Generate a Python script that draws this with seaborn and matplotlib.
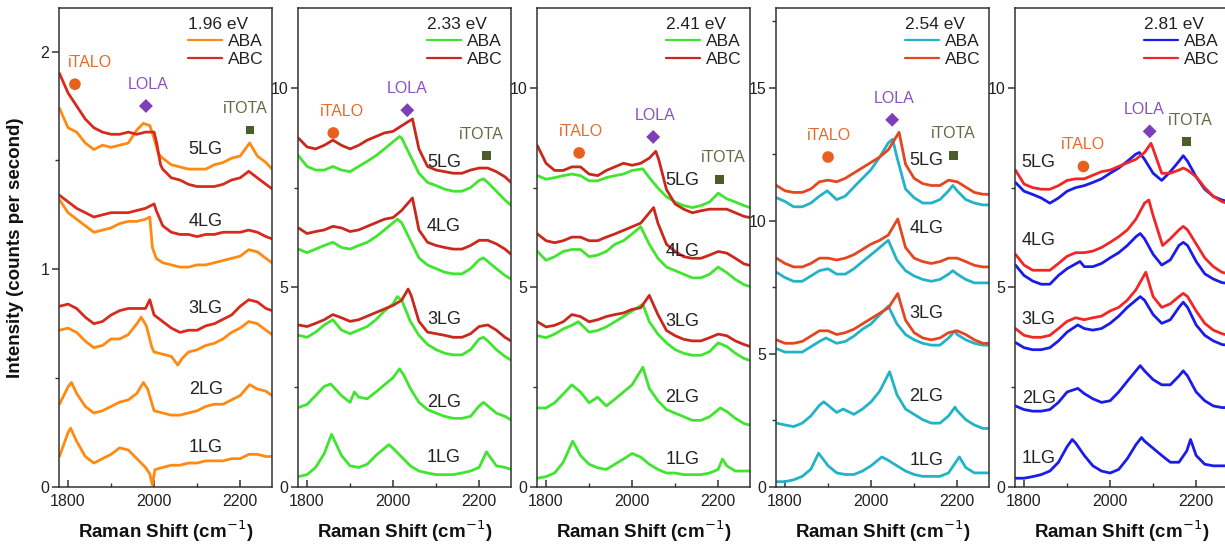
import matplotlib
matplotlib.use("Agg")
import matplotlib.pyplot as plt
from matplotlib.lines import Line2D
import pandas as pd
import seaborn as sns

# ------------------------------------------------------------------ data
ENERGIES = ["1.96 eV", "2.33 eV", "2.41 eV", "2.54 eV", "2.81 eV"]
LAYERS = ["1LG", "2LG", "3LG", "4LG", "5LG"]
STACKINGS = ["ABA", "ABC"]
MODES = ["iTALO", "LOLA", "iTOTA"]

# ---- 1.96 eV
E196_ABA_1LG = [(1780,0.14),(1800,0.25),(1806,0.27),(1820,0.21),(1840,0.14),(1860,0.11),(1880,0.13),(1900,0.15),(1920,0.18),(1940,0.17),(1960,0.13),(1980,0.09),(1990,0.06),(1996,0.01),(2002,0.08),(2020,0.09),(2040,0.10),(2060,0.10),(2080,0.11),(2100,0.11),(2120,0.12),(2140,0.12),(2160,0.12),(2180,0.13),(2200,0.13),(2220,0.15),(2240,0.15),(2260,0.14),(2274,0.14)]
E196_ABA_2LG = [(1780,0.38),(1800,0.46),(1808,0.48),(1820,0.43),(1840,0.37),(1860,0.34),(1880,0.35),(1900,0.37),(1920,0.39),(1940,0.40),(1960,0.43),(1975,0.48),(1985,0.45),(2000,0.35),(2020,0.34),(2040,0.33),(2060,0.33),(2080,0.34),(2100,0.35),(2120,0.37),(2140,0.38),(2160,0.38),(2180,0.40),(2200,0.42),(2222,0.47),(2240,0.45),(2260,0.44),(2274,0.42)]
E196_ABA_3LG = [(1780,0.72),(1800,0.73),(1820,0.71),(1840,0.67),(1860,0.64),(1880,0.65),(1900,0.68),(1920,0.68),(1940,0.70),(1960,0.75),(1970,0.78),(1982,0.74),(1995,0.64),(2000,0.62),(2020,0.61),(2040,0.60),(2055,0.56),(2065,0.59),(2080,0.62),(2100,0.63),(2120,0.65),(2140,0.66),(2160,0.68),(2180,0.71),(2200,0.73),(2220,0.76),(2240,0.75),(2260,0.72),(2274,0.70)]
E196_ABC_3LG = [(1780,0.83),(1800,0.84),(1820,0.82),(1840,0.78),(1860,0.75),(1880,0.76),(1900,0.79),(1920,0.81),(1940,0.82),(1960,0.82),(1980,0.82),(1990,0.86),(2000,0.79),(2020,0.76),(2040,0.73),(2060,0.71),(2080,0.72),(2100,0.72),(2120,0.74),(2140,0.75),(2160,0.77),(2180,0.79),(2200,0.83),(2220,0.86),(2240,0.85),(2260,0.82),(2274,0.81)]
E196_ABA_4LG = [(1780,1.32),(1800,1.26),(1820,1.23),(1840,1.20),(1860,1.17),(1880,1.18),(1900,1.19),(1920,1.21),(1940,1.22),(1960,1.22),(1980,1.23),(1990,1.24),(1996,1.10),(2005,1.05),(2020,1.03),(2040,1.02),(2060,1.01),(2080,1.01),(2100,1.02),(2120,1.02),(2140,1.03),(2160,1.04),(2180,1.05),(2200,1.06),(2220,1.09),(2240,1.08),(2260,1.05),(2274,1.03)]
E196_ABC_4LG = [(1780,1.34),(1800,1.31),(1820,1.28),(1840,1.26),(1860,1.24),(1880,1.25),(1900,1.26),(1920,1.26),(1940,1.26),(1960,1.27),(1980,1.28),(2000,1.30),(2005,1.27),(2020,1.20),(2040,1.17),(2060,1.16),(2080,1.16),(2100,1.15),(2120,1.16),(2140,1.16),(2160,1.17),(2180,1.17),(2200,1.17),(2220,1.18),(2240,1.17),(2260,1.15),(2274,1.14)]
E196_ABA_5LG = [(1780,1.74),(1800,1.65),(1820,1.63),(1840,1.58),(1860,1.55),(1880,1.57),(1900,1.56),(1920,1.57),(1940,1.58),(1960,1.64),(1975,1.67),(1990,1.66),(2000,1.60),(2010,1.53),(2020,1.51),(2040,1.48),(2060,1.47),(2080,1.46),(2100,1.46),(2120,1.46),(2140,1.48),(2160,1.49),(2180,1.51),(2200,1.52),(2222,1.58),(2240,1.52),(2260,1.49),(2274,1.46)]
E196_ABC_5LG = [(1780,1.90),(1800,1.81),(1820,1.75),(1840,1.69),(1860,1.65),(1880,1.63),(1900,1.62),(1920,1.62),(1940,1.63),(1960,1.62),(1980,1.63),(2000,1.63),(2006,1.58),(2015,1.48),(2020,1.46),(2040,1.42),(2060,1.41),(2080,1.39),(2100,1.38),(2120,1.38),(2140,1.38),(2160,1.39),(2180,1.41),(2200,1.42),(2220,1.45),(2240,1.42),(2260,1.39),(2274,1.37)]

# ---- 2.33 eV
E233_ABA_1LG = [(1780,0.26),(1800,0.31),(1820,0.49),(1840,0.84),(1857,1.32),(1880,0.79),(1900,0.53),(1920,0.49),(1940,0.57),(1960,0.79),(1980,0.97),(1990,1.06),(2000,0.97),(2020,0.75),(2040,0.53),(2060,0.40),(2080,0.35),(2100,0.31),(2120,0.31),(2140,0.31),(2160,0.35),(2180,0.40),(2200,0.49),(2217,0.88),(2240,0.53),(2260,0.49),(2274,0.44)]
E233_ABA_2LG = [(1780,1.99),(1800,2.07),(1820,2.29),(1840,2.52),(1855,2.58),(1880,2.29),(1900,2.12),(1910,2.38),(1920,2.25),(1940,2.21),(1960,2.38),(1980,2.56),(2000,2.74),(2015,2.96),(2025,2.80),(2040,2.47),(2060,2.12),(2080,1.94),(2100,1.85),(2120,1.77),(2140,1.72),(2160,1.72),(2180,1.77),(2200,2.03),(2210,2.12),(2220,2.03),(2240,1.85),(2260,1.77),(2274,1.68)]
E233_ABA_3LG = [(1780,3.80),(1800,3.75),(1820,3.88),(1840,4.06),(1860,4.19),(1880,3.93),(1900,3.84),(1920,3.93),(1940,4.02),(1960,4.19),(1980,4.41),(2000,4.59),(2010,4.77),(2020,4.68),(2040,4.15),(2060,3.80),(2080,3.57),(2100,3.44),(2120,3.35),(2140,3.31),(2160,3.31),(2180,3.44),(2200,3.71),(2210,3.75),(2220,3.66),(2240,3.44),(2260,3.27),(2274,3.18)]
E233_ABC_3LG = [(1780,4.06),(1800,4.02),(1820,4.10),(1840,4.19),(1860,4.32),(1880,4.24),(1900,4.15),(1920,4.19),(1940,4.28),(1960,4.37),(1980,4.46),(2000,4.55),(2020,4.68),(2035,4.96),(2042,4.80),(2060,4.15),(2080,3.88),(2100,3.84),(2120,3.80),(2140,3.75),(2160,3.75),(2180,3.84),(2200,4.02),(2220,4.06),(2240,3.93),(2260,3.75),(2274,3.66)]
E233_ABA_4LG = [(1780,5.96),(1800,5.87),(1820,5.96),(1840,6.05),(1860,6.13),(1880,6.00),(1900,5.96),(1920,6.05),(1940,6.13),(1960,6.27),(1980,6.44),(2000,6.62),(2010,6.71),(2020,6.62),(2040,6.18),(2060,5.74),(2080,5.56),(2100,5.47),(2120,5.38),(2140,5.34),(2160,5.34),(2180,5.47),(2200,5.69),(2210,5.74),(2220,5.65),(2240,5.47),(2260,5.30),(2274,5.21)]
E233_ABC_4LG = [(1780,6.49),(1800,6.35),(1820,6.40),(1840,6.44),(1860,6.53),(1880,6.49),(1900,6.40),(1920,6.44),(1940,6.53),(1960,6.62),(1980,6.71),(2000,6.75),(2020,6.93),(2045,7.24),(2060,6.44),(2080,6.13),(2100,6.05),(2120,6.00),(2140,5.96),(2160,5.96),(2180,6.05),(2200,6.18),(2220,6.18),(2240,6.09),(2260,5.96),(2274,5.83)]
E233_ABA_5LG = [(1780,8.30),(1800,8.03),(1820,7.94),(1840,7.94),(1860,8.03),(1880,7.94),(1900,7.90),(1920,8.03),(1940,8.16),(1960,8.30),(1980,8.47),(2000,8.65),(2015,8.78),(2020,8.74),(2040,8.30),(2060,7.86),(2080,7.63),(2100,7.55),(2120,7.46),(2140,7.41),(2160,7.41),(2180,7.50),(2200,7.68),(2210,7.72),(2220,7.63),(2240,7.41),(2260,7.19),(2274,7.06)]
E233_ABC_5LG = [(1780,8.74),(1800,8.52),(1820,8.47),(1840,8.56),(1860,8.69),(1880,8.56),(1900,8.47),(1920,8.56),(1940,8.69),(1960,8.78),(1980,8.87),(2000,8.91),(2020,9.05),(2045,9.22),(2060,8.47),(2080,8.03),(2100,7.94),(2120,7.90),(2140,7.86),(2160,7.86),(2180,7.94),(2200,7.99),(2220,7.99),(2240,7.90),(2260,7.77),(2274,7.63)]

# ---- 2.41 eV
E241_ABA_1LG = [(1780,0.22),(1800,0.26),(1820,0.35),(1840,0.62),(1862,1.15),(1880,0.79),(1900,0.57),(1920,0.48),(1940,0.44),(1960,0.57),(1980,0.70),(2000,0.84),(2020,0.75),(2040,0.57),(2060,0.44),(2080,0.35),(2100,0.35),(2120,0.31),(2140,0.31),(2160,0.31),(2180,0.35),(2200,0.44),(2210,0.70),(2220,0.53),(2240,0.40),(2260,0.40),(2274,0.40)]
E241_ABA_2LG = [(1780,1.98),(1800,1.98),(1820,2.11),(1840,2.33),(1860,2.56),(1880,2.38),(1900,2.11),(1920,2.25),(1940,2.03),(1960,2.20),(1980,2.38),(2000,2.56),(2025,3.00),(2040,2.47),(2060,2.16),(2080,1.94),(2100,1.85),(2120,1.76),(2140,1.67),(2160,1.67),(2180,1.76),(2205,1.98),(2220,1.89),(2240,1.72),(2260,1.59),(2274,1.55)]
E241_ABA_3LG = [(1780,3.79),(1800,3.74),(1820,3.83),(1840,3.96),(1860,4.05),(1875,4.14),(1900,3.88),(1920,3.92),(1940,4.01),(1960,4.14),(1980,4.27),(2000,4.41),(2025,4.58),(2040,4.14),(2060,3.83),(2080,3.61),(2100,3.44),(2120,3.35),(2140,3.30),(2160,3.30),(2180,3.39),(2200,3.61),(2220,3.52),(2240,3.35),(2260,3.22),(2274,3.17)]
E241_ABC_3LG = [(1780,4.14),(1800,4.01),(1820,4.05),(1840,4.14),(1860,4.32),(1880,4.27),(1900,4.14),(1920,4.19),(1940,4.27),(1960,4.32),(1980,4.36),(2000,4.45),(2020,4.49),(2040,4.80),(2060,4.32),(2080,3.92),(2100,3.79),(2120,3.70),(2140,3.66),(2160,3.66),(2180,3.74),(2200,3.83),(2220,3.79),(2240,3.66),(2260,3.57),(2274,3.52)]
E241_ABA_4LG = [(1780,5.90),(1800,5.68),(1820,5.77),(1840,5.90),(1860,5.95),(1880,5.95),(1900,5.77),(1920,5.81),(1940,5.90),(1960,6.08),(1980,6.17),(2000,6.34),(2020,6.52),(2040,6.08),(2060,5.73),(2080,5.51),(2100,5.42),(2120,5.33),(2140,5.24),(2160,5.24),(2180,5.33),(2200,5.51),(2220,5.37),(2240,5.20),(2260,5.07),(2274,5.02)]
E241_ABC_4LG = [(1780,6.34),(1800,6.17),(1820,6.12),(1840,6.17),(1860,6.26),(1880,6.26),(1900,6.17),(1920,6.17),(1940,6.26),(1960,6.34),(1980,6.43),(2000,6.52),(2020,6.61),(2040,6.87),(2050,7.00),(2060,6.61),(2080,6.08),(2100,5.90),(2120,5.77),(2140,5.73),(2160,5.73),(2180,5.81),(2200,5.90),(2220,5.86),(2240,5.73),(2260,5.59),(2274,5.55)]
E241_ABA_5LG = [(1780,7.80),(1800,7.71),(1820,7.75),(1840,7.80),(1860,7.84),(1880,7.80),(1900,7.67),(1920,7.67),(1940,7.75),(1960,7.80),(1980,7.84),(2000,7.93),(2025,7.97),(2040,7.75),(2060,7.49),(2080,7.27),(2100,7.14),(2120,7.05),(2140,7.00),(2160,7.05),(2180,7.14),(2200,7.36),(2220,7.22),(2240,7.14),(2260,7.05),(2274,7.00)]
E241_ABC_5LG = [(1780,8.55),(1800,8.11),(1820,7.93),(1840,7.93),(1860,8.02),(1880,8.02),(1900,7.84),(1920,7.80),(1940,7.93),(1960,8.02),(1980,8.11),(2000,8.06),(2020,8.11),(2040,8.24),(2055,8.41),(2062,8.20),(2080,7.45),(2100,7.09),(2120,6.96),(2140,6.87),(2160,6.92),(2180,6.96),(2200,6.96),(2220,6.96),(2240,6.87),(2260,6.78),(2274,6.75)]

# ---- 2.54 eV
E254_ABA_1LG = [(1780,0.20),(1800,0.20),(1820,0.27),(1840,0.40),(1860,0.67),(1878,1.27),(1900,0.80),(1920,0.53),(1940,0.47),(1960,0.47),(1980,0.60),(2000,0.80),(2025,1.13),(2040,1.00),(2060,0.80),(2080,0.60),(2100,0.47),(2120,0.40),(2140,0.40),(2160,0.40),(2180,0.53),(2205,1.13),(2220,0.73),(2240,0.53),(2260,0.53),(2274,0.53)]
E254_ABA_2LG = [(1780,2.40),(1800,2.33),(1820,2.27),(1840,2.40),(1860,2.67),(1880,3.07),(1890,3.20),(1900,3.07),(1920,2.80),(1935,2.93),(1960,2.73),(1980,2.93),(2000,3.20),(2020,3.60),(2043,4.33),(2060,3.47),(2080,2.93),(2100,2.73),(2120,2.53),(2140,2.40),(2160,2.40),(2180,2.67),(2195,3.00),(2200,2.87),(2220,2.53),(2240,2.33),(2260,2.20),(2274,2.20)]
E254_ABA_3LG = [(1780,5.20),(1800,5.07),(1820,5.07),(1840,5.07),(1860,5.27),(1880,5.47),(1895,5.60),(1920,5.40),(1940,5.47),(1960,5.67),(1980,5.93),(2000,6.13),(2020,6.47),(2040,6.80),(2060,6.13),(2080,5.73),(2100,5.53),(2120,5.40),(2140,5.33),(2160,5.33),(2180,5.60),(2195,5.87),(2200,5.73),(2220,5.53),(2240,5.40),(2260,5.33),(2274,5.33)]
E254_ABC_3LG = [(1780,5.53),(1800,5.40),(1820,5.40),(1840,5.47),(1860,5.67),(1880,5.87),(1900,5.87),(1920,5.73),(1940,5.80),(1960,5.93),(1980,6.13),(2000,6.33),(2020,6.53),(2040,6.73),(2062,7.27),(2080,6.27),(2100,5.80),(2120,5.60),(2140,5.53),(2160,5.60),(2180,5.80),(2200,5.87),(2220,5.73),(2240,5.53),(2260,5.40),(2274,5.40)]
E254_ABA_4LG = [(1780,8.07),(1800,7.87),(1820,7.73),(1840,7.73),(1860,7.93),(1880,8.13),(1900,8.20),(1920,8.00),(1940,8.00),(1960,8.20),(1980,8.47),(2000,8.73),(2020,9.00),(2040,9.27),(2060,8.53),(2080,8.13),(2100,7.93),(2120,7.80),(2140,7.73),(2160,7.80),(2180,8.00),(2190,8.13),(2200,8.00),(2220,7.80),(2240,7.67),(2260,7.67),(2274,7.67)]
E254_ABC_4LG = [(1780,8.60),(1800,8.40),(1820,8.27),(1840,8.27),(1860,8.40),(1880,8.60),(1900,8.60),(1920,8.53),(1940,8.60),(1960,8.73),(1980,8.93),(2000,9.13),(2020,9.27),(2040,9.47),(2062,10.07),(2080,9.00),(2100,8.60),(2120,8.47),(2140,8.40),(2160,8.47),(2180,8.60),(2200,8.60),(2220,8.47),(2240,8.33),(2260,8.27),(2274,8.27)]
E254_ABA_5LG = [(1780,10.87),(1800,10.73),(1820,10.53),(1840,10.53),(1860,10.67),(1880,10.93),(1898,11.13),(1920,10.80),(1940,10.93),(1960,11.27),(1980,11.60),(2000,11.93),(2020,12.40),(2040,12.93),(2050,13.07),(2060,12.40),(2080,11.20),(2100,10.87),(2120,10.67),(2140,10.67),(2160,10.80),(2180,11.13),(2190,11.33),(2200,11.13),(2220,10.80),(2240,10.67),(2260,10.60),(2274,10.60)]
E254_ABC_5LG = [(1780,11.33),(1800,11.13),(1820,11.07),(1840,11.07),(1860,11.20),(1880,11.47),(1900,11.53),(1920,11.47),(1940,11.60),(1960,11.80),(1980,12.00),(2000,12.20),(2020,12.40),(2040,12.67),(2065,13.33),(2080,12.13),(2100,11.60),(2120,11.40),(2140,11.33),(2160,11.33),(2180,11.53),(2200,11.47),(2220,11.27),(2240,11.07),(2260,11.00),(2274,11.00)]

# ---- 2.81 eV
E281_ABA_1LG = [(1780,0.22),(1800,0.22),(1820,0.26),(1840,0.31),(1860,0.40),(1880,0.62),(1900,1.01),(1912,1.19),(1920,1.10),(1940,0.79),(1960,0.53),(1980,0.40),(2000,0.35),(2020,0.44),(2040,0.71),(2060,1.06),(2073,1.24),(2080,1.15),(2100,0.97),(2120,0.79),(2140,0.62),(2160,0.62),(2178,0.90),(2187,1.19),(2200,0.79),(2220,0.57),(2240,0.53),(2260,0.53),(2274,0.53)]
E281_ABA_2LG = [(1780,2.03),(1800,1.94),(1820,1.90),(1840,1.90),(1860,1.94),(1880,2.12),(1900,2.38),(1925,2.47),(1940,2.34),(1960,2.21),(1980,2.12),(2000,2.16),(2020,2.38),(2040,2.65),(2060,2.91),(2070,3.04),(2080,2.91),(2100,2.69),(2120,2.56),(2140,2.56),(2160,2.78),(2170,2.91),(2180,2.78),(2200,2.38),(2220,2.16),(2240,2.03),(2260,1.99),(2274,1.99)]
E281_ABA_3LG = [(1780,3.62),(1800,3.49),(1820,3.44),(1840,3.44),(1860,3.49),(1880,3.66),(1900,3.88),(1925,4.06),(1940,3.97),(1960,3.93),(1980,3.97),(2000,4.10),(2020,4.28),(2040,4.50),(2060,4.68),(2070,4.77),(2080,4.68),(2100,4.32),(2120,4.10),(2140,4.19),(2160,4.50),(2170,4.63),(2180,4.50),(2200,4.06),(2220,3.80),(2240,3.66),(2260,3.57),(2274,3.55)]
E281_ABC_3LG = [(1780,3.97),(1800,3.80),(1820,3.75),(1840,3.75),(1860,3.80),(1880,3.97),(1900,4.15),(1920,4.24),(1940,4.19),(1960,4.24),(1980,4.28),(2000,4.41),(2020,4.50),(2040,4.68),(2060,4.94),(2083,5.38),(2100,4.77),(2120,4.50),(2140,4.59),(2160,4.77),(2170,4.85),(2180,4.77),(2200,4.41),(2220,4.10),(2240,3.93),(2260,3.84),(2274,3.80)]
E281_ABA_4LG = [(1780,5.56),(1800,5.30),(1820,5.16),(1840,5.08),(1860,5.08),(1880,5.30),(1900,5.47),(1930,5.65),(1940,5.52),(1960,5.52),(1980,5.60),(2000,5.74),(2020,5.87),(2040,6.05),(2060,6.27),(2070,6.35),(2080,6.22),(2100,5.83),(2120,5.56),(2140,5.69),(2160,6.05),(2170,6.13),(2180,6.05),(2200,5.65),(2220,5.34),(2240,5.21),(2260,5.12),(2274,5.10)]
E281_ABC_4LG = [(1780,5.83),(1800,5.56),(1820,5.43),(1840,5.43),(1860,5.43),(1880,5.60),(1900,5.78),(1920,5.87),(1940,5.87),(1960,5.91),(1980,6.00),(2000,6.13),(2020,6.27),(2040,6.44),(2060,6.71),(2080,7.11),(2090,7.19),(2100,6.80),(2122,6.05),(2140,6.22),(2160,6.44),(2170,6.53),(2180,6.44),(2200,6.09),(2220,5.74),(2240,5.52),(2260,5.38),(2274,5.34)]
E281_ABA_5LG = [(1780,7.63),(1800,7.41),(1820,7.33),(1840,7.24),(1860,7.11),(1880,7.24),(1900,7.41),(1920,7.50),(1940,7.55),(1960,7.63),(1980,7.72),(2000,7.86),(2020,7.99),(2040,8.16),(2060,8.34),(2068,8.38),(2080,8.21),(2100,7.86),(2120,7.68),(2140,7.90),(2160,8.16),(2170,8.30),(2180,8.16),(2200,7.77),(2220,7.46),(2240,7.28),(2260,7.19),(2274,7.15)]
E281_ABC_5LG = [(1780,7.94),(1800,7.59),(1820,7.50),(1840,7.46),(1860,7.46),(1880,7.55),(1900,7.68),(1920,7.72),(1940,7.72),(1960,7.81),(1980,7.90),(2000,7.94),(2020,8.03),(2040,8.12),(2060,8.21),(2080,8.38),(2095,8.61),(2100,8.47),(2120,7.86),(2140,7.86),(2160,7.94),(2170,7.99),(2180,7.94),(2200,7.77),(2220,7.50),(2240,7.28),(2260,7.15),(2274,7.10)]

# mode markers (x in cm-1, y in counts/s) per panel
ITALO_MARK = [(1816, 1.85), (1861, 8.87), (1877, 8.37), (1900, 12.4), (1938, 8.03)]
LOLA_MARK = [(1981, 1.75), (2033, 9.44), (2049, 8.77), (2049, 13.8), (2092, 8.91)]
ITOTA_MARK = [(2223, 1.64), (2217, 8.30), (2204, 7.71), (2192, 12.47), (2177, 8.65)]

PANEL_CURVES = [
    {"ABA": [E196_ABA_1LG, E196_ABA_2LG, E196_ABA_3LG, E196_ABA_4LG, E196_ABA_5LG],
     "ABC": [None, None, E196_ABC_3LG, E196_ABC_4LG, E196_ABC_5LG]},
    {"ABA": [E233_ABA_1LG, E233_ABA_2LG, E233_ABA_3LG, E233_ABA_4LG, E233_ABA_5LG],
     "ABC": [None, None, E233_ABC_3LG, E233_ABC_4LG, E233_ABC_5LG]},
    {"ABA": [E241_ABA_1LG, E241_ABA_2LG, E241_ABA_3LG, E241_ABA_4LG, E241_ABA_5LG],
     "ABC": [None, None, E241_ABC_3LG, E241_ABC_4LG, E241_ABC_5LG]},
    {"ABA": [E254_ABA_1LG, E254_ABA_2LG, E254_ABA_3LG, E254_ABA_4LG, E254_ABA_5LG],
     "ABC": [None, None, E254_ABC_3LG, E254_ABC_4LG, E254_ABC_5LG]},
    {"ABA": [E281_ABA_1LG, E281_ABA_2LG, E281_ABA_3LG, E281_ABA_4LG, E281_ABA_5LG],
     "ABC": [None, None, E281_ABC_3LG, E281_ABC_4LG, E281_ABC_5LG]},
]

# ------------------------------------------------------------------ style
ABA_COLORS = ["#FF8A12", "#3FE52F", "#3FE52F", "#22B3C6", "#1B1BEA"]
ABC_COLORS = ["#D82A1E", "#C9291D", "#C9291D", "#E4461F", "#F22626"]
ITALO_C, LOLA_C, ITOTA_C = "#E8601E", "#7D3FB8", "#4B5D2B"
ITALO_TC, LOLA_TC, ITOTA_TC = "#E66A2C", "#8A52C2", "#5E6E44"

YLIMS = [2.2, 12, 12, 18, 12]
YMAJ = [[0, 1, 2], [0, 5, 10], [0, 5, 10], [0, 5, 10, 15], [0, 5, 10]]
YMIN = [[0.5, 1.5], [2.5, 7.5], [2.5, 7.5], [2.5, 7.5, 12.5, 17.5], [2.5, 7.5]]
XLIM = (1779, 2274)

ITALO_TXT_DX = [35, 19, 3, 3, 0]
LOLA_TXT_DX = [5, 0, 5, 4, -12]
ITOTA_TXT_DX = [-11, -13, 8, 0, 9]
LAYER_LABEL_X = [2120, 2118, 2117, 2128, 1834]
LAYER_LABEL_Y = [[0.18, 0.45, 0.82, 1.22, 1.55],
                 [0.75, 2.12, 4.19, 6.53, 8.12],
                 [0.70, 2.25, 4.14, 5.90, 7.67],
                 [1.00, 3.40, 6.53, 9.73, 12.27],
                 [0.71, 2.21, 4.19, 6.18, 8.12]]

sns.set_style("ticks")
plt.rcParams["font.family"] = ["Liberation Sans", "DejaVu Sans"]
plt.rcParams["axes.linewidth"] = 1.1
plt.rcParams["axes.edgecolor"] = "#333333"

W, H = 1225, 548
fig = plt.figure(figsize=(W / 100, H / 100), dpi=100)
LEFTS = [59, 298, 537, 776, 1015]
PW = 213
TOP, BOT = 8, 487

for i in range(5):
    ax = fig.add_axes([LEFTS[i] / W, (H - BOT) / H, PW / W, (BOT - TOP) / H])
    rows = []
    for st in STACKINGS:
        for li, curve in enumerate(PANEL_CURVES[i][st]):
            if curve is None:
                continue
            for (x, y) in curve:
                rows.append({"shift": x, "intensity": y, "stacking": st,
                             "curve": f"{st}_{LAYERS[li]}"})
    df = pd.DataFrame(rows)
    sns.lineplot(data=df, x="shift", y="intensity", hue="stacking", units="curve",
                 estimator=None, sort=False, ax=ax, legend=False,
                 palette={"ABA": ABA_COLORS[i], "ABC": ABC_COLORS[i]},
                 hue_order=STACKINGS, linewidth=2.0)

    ymax = YLIMS[i]
    ax.set_xlim(*XLIM)
    ax.set_ylim(0, ymax)
    ax.set_xticks([1800, 2000, 2200])
    ax.set_xticks([1900, 2100], minor=True)
    ax.set_yticks(YMAJ[i])
    ax.set_yticks(YMIN[i], minor=True)
    ax.tick_params(axis="x", which="major", direction="in", length=5, width=1.1,
                   labelsize=11.5, colors="#333333", labelcolor="#222222", pad=5)
    ax.tick_params(axis="x", which="minor", direction="in", length=3, width=1.0, colors="#333333")
    ax.tick_params(axis="y", which="major", direction="out", length=5, width=1.1,
                   labelsize=11.5, colors="#333333", labelcolor="#222222", pad=2)
    ax.tick_params(axis="y", which="minor", direction="out", length=3, width=1.0, colors="#333333")
    for s in ax.spines.values():
        s.set_visible(True)
        s.set_color("#333333")
    ax.set_xlabel("Raman Shift (cm$^{-1}$)", fontsize=13.5, fontweight="bold", labelpad=7, color="#111111")
    if i == 0:
        ax.set_ylabel("Intensity (counts per second)", fontsize=13.5, fontweight="bold",
                      labelpad=12, color="#111111")
    else:
        ax.set_ylabel("")

    off = 0.045 * ymax
    mx, my = ITALO_MARK[i]
    sns.scatterplot(x=[mx], y=[my], ax=ax, color=ITALO_C, s=70, marker="o", edgecolor="none", legend=False)
    ax.text(mx + ITALO_TXT_DX[i], my + off, MODES[0], color=ITALO_TC, fontsize=11.5, ha="center", va="center")
    mx, my = LOLA_MARK[i]
    sns.scatterplot(x=[mx], y=[my], ax=ax, color=LOLA_C, s=50, marker="D", edgecolor="none", legend=False)
    ax.text(mx + LOLA_TXT_DX[i], my + off, MODES[1], color=LOLA_TC, fontsize=11.5, ha="center", va="center")
    mx, my = ITOTA_MARK[i]
    sns.scatterplot(x=[mx], y=[my], ax=ax, color=ITOTA_C, s=40, marker="s", edgecolor="none", legend=False)
    ax.text(mx + ITOTA_TXT_DX[i], my + off, MODES[2], color=ITOTA_TC, fontsize=11.5, ha="center", va="center")

    for li, lab in enumerate(LAYERS):
        ax.text(LAYER_LABEL_X[i], LAYER_LABEL_Y[i][li], lab, fontsize=13, color="#222222",
                ha="center", va="center")

    handles = [Line2D([], [], color=ABA_COLORS[i], lw=1.6),
               Line2D([], [], color=ABC_COLORS[i], lw=1.6)]
    leg = ax.legend(handles, STACKINGS, title=ENERGIES[i], loc="upper right",
                    frameon=False, fontsize=12.5, title_fontsize=12.5,
                    handlelength=2.0, handletextpad=0.3, labelspacing=0.15,
                    borderaxespad=0.2, borderpad=0.3, alignment="left")
    leg.get_title().set_color("#222222")
    for t in leg.get_texts():
        t.set_color("#222222")

fig.savefig("out.png", dpi=100)
